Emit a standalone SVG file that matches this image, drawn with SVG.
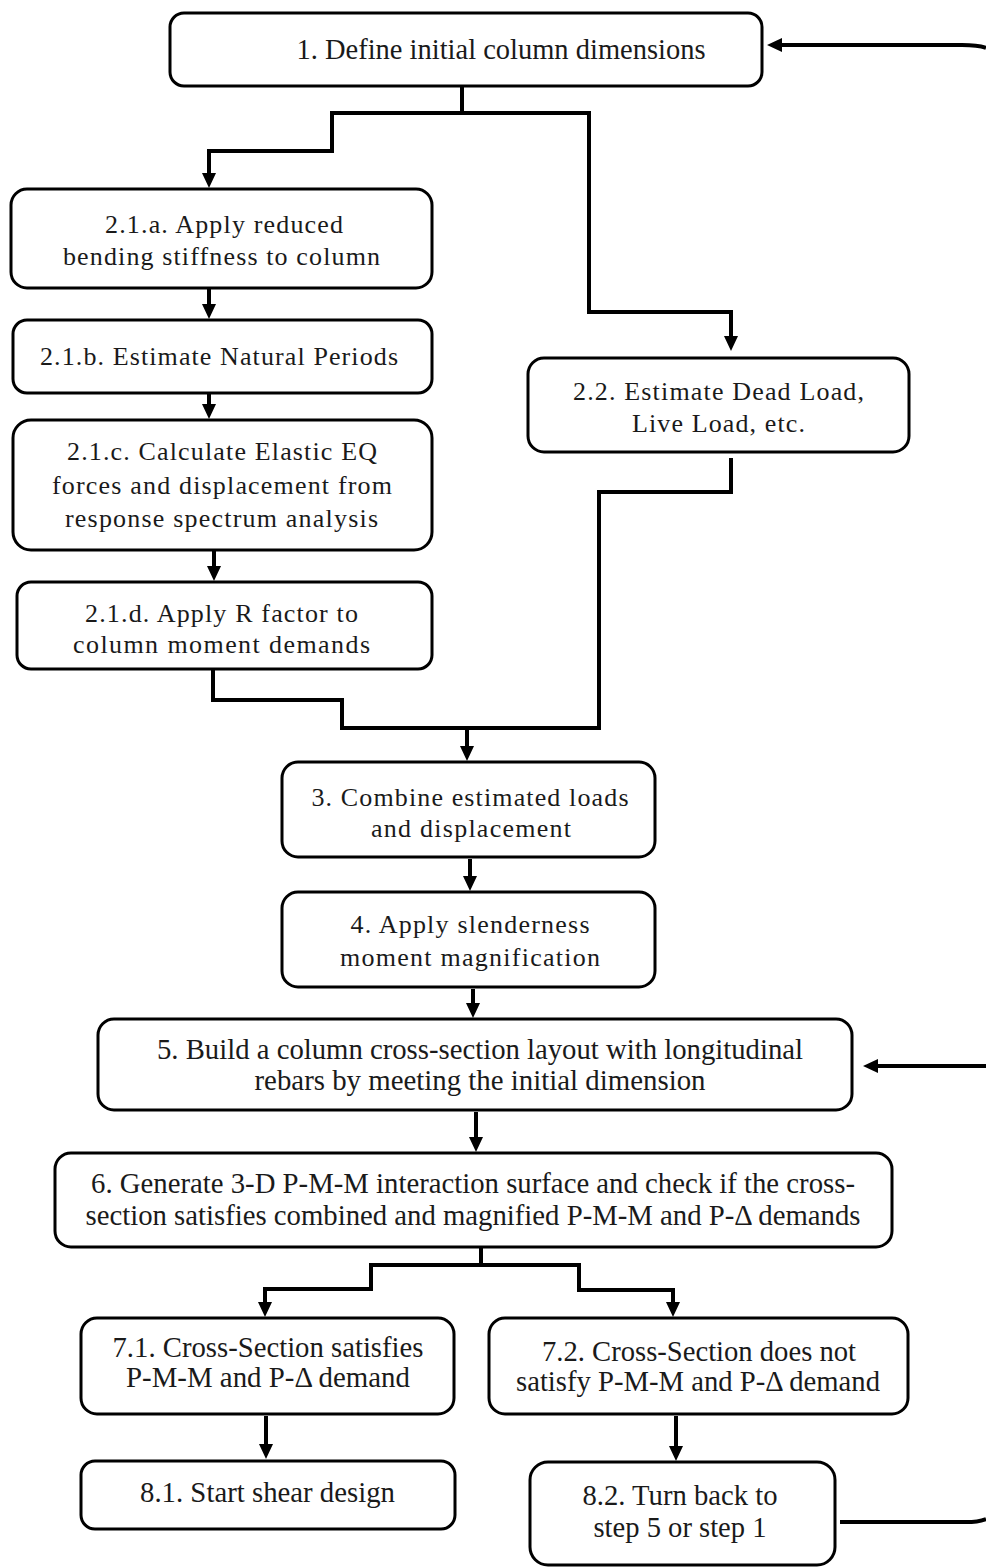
<svg xmlns="http://www.w3.org/2000/svg" width="986" height="1567" viewBox="0 0 986 1567">
<style>
.bg{fill:#fff}
.box{fill:#fff;stroke:#000;stroke-width:3}
.t{font-family:"Liberation Serif","Times New Roman","DejaVu Serif",serif;font-size:26px;text-anchor:middle;fill:#1a1a1a}
.tb{font-family:"Liberation Serif","Times New Roman","DejaVu Serif",serif;font-size:29px;text-anchor:middle;fill:#1a1a1a}
.c{fill:none;stroke:#000;stroke-width:4;stroke-linejoin:miter}
</style>
<defs>
<marker id="ah" markerUnits="userSpaceOnUse" markerWidth="16" markerHeight="14" refX="2" refY="7" orient="auto">
<path d="M0,0 L15,7 L0,14 z" fill="#000"/>
</marker>
</defs>
<rect class="bg" width="986" height="1567"/>
<g id="connectors">
<path class="c" d="M462,86 V113 H332 V151 H209 V175" marker-end="url(#ah)"/>
<path class="c" d="M462,113 H589 V312 H731 V338" marker-end="url(#ah)"/>
<path class="c" d="M209,289 V306" marker-end="url(#ah)"/>
<path class="c" d="M209,394 V406" marker-end="url(#ah)"/>
<path class="c" d="M214,551 V568" marker-end="url(#ah)"/>
<path class="c" d="M213,670 V700 H342 V728 H599 V492 H731 V458"/>
<path class="c" d="M467,728 V748" marker-end="url(#ah)"/>
<path class="c" d="M470,859 V878" marker-end="url(#ah)"/>
<path class="c" d="M473,989 V1005" marker-end="url(#ah)"/>
<path class="c" d="M476,1112 V1139" marker-end="url(#ah)"/>
<path class="c" d="M481,1248 V1265 H371 V1289 H265 V1304" marker-end="url(#ah)"/>
<path class="c" d="M481,1265 H579 V1290 H673 V1304" marker-end="url(#ah)"/>
<path class="c" d="M266,1416 V1446" marker-end="url(#ah)"/>
<path class="c" d="M676,1416 V1448" marker-end="url(#ah)"/>
<path class="c" d="M840,1522 H966 Q978,1522 986,1519"/>
<path class="c" d="M986,1066 H876" marker-end="url(#ah)"/>
<path class="c" d="M986,48 Q978,45 962,45 H780" marker-end="url(#ah)"/>
</g>
<g id="n1">
<rect class="box" x="170" y="13" width="592" height="73" rx="14"/>
<text class="tb" x="501" y="59" textLength="409" lengthAdjust="spacingAndGlyphs">1. Define initial column dimensions</text>
</g>
<g id="n21a">
<rect class="box" x="11" y="189" width="421" height="99" rx="16"/>
<text class="t" x="224" y="233" textLength="238">2.1.a. Apply reduced</text>
<text class="t" x="221.5" y="265" textLength="317">bending stiffness to column</text>
</g>
<g id="n21b">
<rect class="box" x="13" y="320" width="419" height="73" rx="14"/>
<text class="t" x="219" y="365" textLength="358">2.1.b. Estimate Natural Periods</text>
</g>
<g id="n21c">
<rect class="box" x="13" y="420" width="419" height="130" rx="18"/>
<text class="t" x="222" y="460" textLength="310">2.1.c. Calculate Elastic EQ</text>
<text class="t" x="222" y="494" textLength="340">forces and displacement from</text>
<text class="t" x="221.5" y="527" textLength="313">response spectrum analysis</text>
</g>
<g id="n21d">
<rect class="box" x="17" y="582" width="415" height="87" rx="14"/>
<text class="t" x="221.5" y="622" textLength="273">2.1.d. Apply R factor to</text>
<text class="t" x="221.5" y="653" textLength="297">column moment demands</text>
</g>
<g id="n22">
<rect class="box" x="528" y="358" width="381" height="94" rx="16"/>
<text class="t" x="718.5" y="400" textLength="291">2.2. Estimate Dead Load,</text>
<text class="t" x="718.5" y="432" textLength="173">Live Load, etc.</text>
</g>
<g id="n3">
<rect class="box" x="282" y="762" width="373" height="95" rx="16"/>
<text class="t" x="470" y="806" textLength="317">3. Combine estimated loads</text>
<text class="t" x="471" y="837" textLength="200">and displacement</text>
</g>
<g id="n4">
<rect class="box" x="282" y="892" width="373" height="95" rx="16"/>
<text class="t" x="470" y="933" textLength="239">4. Apply slenderness</text>
<text class="t" x="470" y="966" textLength="260">moment magnification</text>
</g>
<g id="n5">
<rect class="box" x="98" y="1019" width="754" height="91" rx="16"/>
<text class="tb" x="480" y="1059" textLength="646" lengthAdjust="spacingAndGlyphs">5. Build a column cross-section layout with longitudinal</text>
<text class="tb" x="480" y="1090" textLength="451" lengthAdjust="spacingAndGlyphs">rebars by meeting the initial dimension</text>
</g>
<g id="n6">
<rect class="box" x="55" y="1153" width="837" height="94" rx="16"/>
<text class="tb" x="473" y="1193" textLength="764" lengthAdjust="spacingAndGlyphs">6. Generate 3-D P-M-M interaction surface and check if the cross-</text>
<text class="tb" x="473" y="1225" textLength="775" lengthAdjust="spacingAndGlyphs">section satisfies combined and magnified P-M-M and P-Δ demands</text>
</g>
<g id="n71">
<rect class="box" x="81" y="1318" width="373" height="96" rx="16"/>
<text class="tb" x="268" y="1357" textLength="311" lengthAdjust="spacingAndGlyphs">7.1. Cross-Section satisfies</text>
<text class="tb" x="268" y="1387" textLength="284" lengthAdjust="spacingAndGlyphs">P-M-M and P-Δ demand</text>
</g>
<g id="n72">
<rect class="box" x="489" y="1318" width="419" height="96" rx="16"/>
<text class="tb" x="699" y="1361" textLength="314" lengthAdjust="spacingAndGlyphs">7.2. Cross-Section does not</text>
<text class="tb" x="698" y="1391" textLength="364" lengthAdjust="spacingAndGlyphs">satisfy P-M-M and P-Δ demand</text>
</g>
<g id="n81">
<rect class="box" x="81" y="1461" width="374" height="68" rx="14"/>
<text class="tb" x="267.5" y="1502" textLength="255" lengthAdjust="spacingAndGlyphs">8.1. Start shear design</text>
</g>
<g id="n82">
<rect class="box" x="530" y="1462" width="305" height="103" rx="18"/>
<text class="tb" x="680" y="1505" textLength="195" lengthAdjust="spacingAndGlyphs">8.2. Turn back to</text>
<text class="tb" x="680" y="1537" textLength="173" lengthAdjust="spacingAndGlyphs">step 5 or step 1</text>
</g>
</svg>
